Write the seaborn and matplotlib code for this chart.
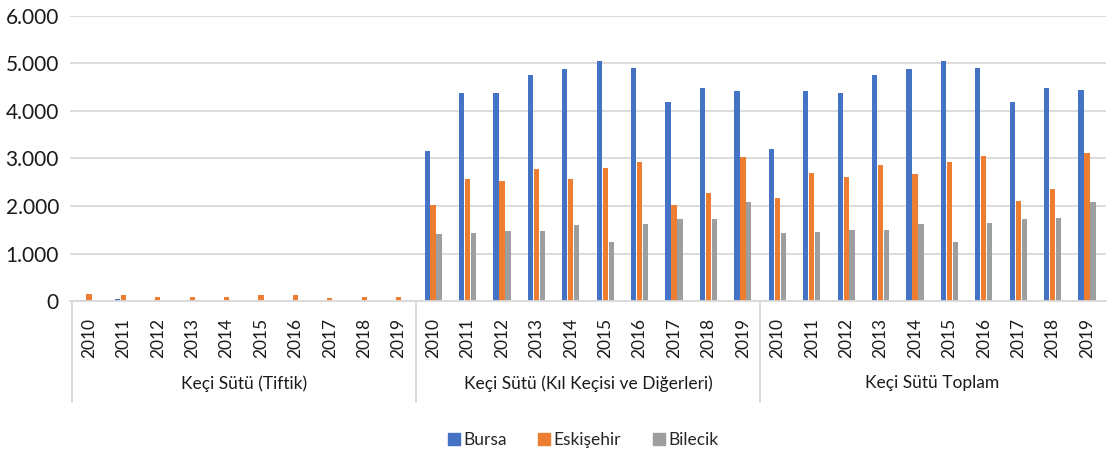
import matplotlib
matplotlib.use("Agg")
import matplotlib.pyplot as plt
import matplotlib.ticker as mticker
from matplotlib.lines import Line2D
import seaborn as sns
import pandas as pd

years = ["2010", "2011", "2012", "2013", "2014", "2015", "2016", "2017", "2018", "2019"]
groups = ["Keçi Sütü (Tiftik)", "Keçi Sütü (Kıl Keçisi ve Diğerleri)", "Keçi Sütü Toplam"]
series = ["Bursa", "Eskişehir", "Bilecik"]

bursa_tiftik = [25, 45, 10, 15, 10, 10, 10, 10, 15, 12]
eskisehir_tiftik = [150, 125, 95, 90, 95, 130, 130, 75, 80, 85]
bilecik_tiftik = [12, 12, 10, 10, 12, 10, 10, 8, 10, 10]

bursa_kil = [3165, 4375, 4370, 4750, 4875, 5040, 4895, 4180, 4475, 4425]
eskisehir_kil = [2025, 2570, 2520, 2775, 2570, 2795, 2920, 2025, 2275, 3040]
bilecik_kil = [1415, 1435, 1480, 1480, 1605, 1240, 1630, 1730, 1730, 2080]

bursa_toplam = [3190, 4420, 4380, 4750, 4885, 5050, 4905, 4190, 4490, 4437]
eskisehir_toplam = [2175, 2695, 2615, 2865, 2665, 2925, 3050, 2100, 2355, 3125]
bilecik_toplam = [1427, 1447, 1490, 1490, 1617, 1250, 1640, 1738, 1740, 2090]

colors = ["#4472C4", "#ED7D31", "#9C9E9F"]

data = {
    groups[0]: [bursa_tiftik, eskisehir_tiftik, bilecik_tiftik],
    groups[1]: [bursa_kil, eskisehir_kil, bilecik_kil],
    groups[2]: [bursa_toplam, eskisehir_toplam, bilecik_toplam],
}

rows = []
order = []
for gi, g in enumerate(groups):
    for yi, y in enumerate(years):
        key = f"{gi}-{y}"
        order.append(key)
        for si, s in enumerate(series):
            rows.append({"x": key, "İl": s, "value": data[g][si][yi]})
df = pd.DataFrame(rows)

sns.set_theme(style="white")
plt.rcParams["font.family"] = ["Lato", "DejaVu Sans"]

fig = plt.figure(figsize=(11.08, 4.57), dpi=100)
ax = fig.add_axes([70 / 1108, 1 - 301.3 / 457, (1106 - 70) / 1108, (301.3 - 15.7) / 457])

sns.barplot(data=df, x="x", y="value", hue="İl", order=order, hue_order=series,
            palette=colors, width=0.52, gap=0.12, ax=ax, legend=False,
            saturation=1, edgecolor="none")

ax.set_ylim(0, 6000)
ax.set_xlim(-0.55, len(order) - 0.45)
ax.yaxis.set_major_locator(mticker.MultipleLocator(1000))
ax.yaxis.set_major_formatter(mticker.FuncFormatter(lambda v, p: f"{int(v):,}".replace(",", ".")))
ax.grid(axis="y", color="#D9D9D9", linewidth=1.3)
ax.set_axisbelow(True)
for s in ["left", "right", "top"]:
    ax.spines[s].set_visible(False)
ax.spines["bottom"].set_color("#D9D9D9")
ax.spines["bottom"].set_linewidth(1.3)
ax.set_xlabel("")
ax.set_ylabel("")
ax.set_xticks(range(len(order)))
ax.set_xticklabels(years * 3, rotation=90, fontsize=12.5, color="#1a1a1a")
ax.tick_params(axis="x", length=0, pad=12)
ax.tick_params(axis="y", length=0, pad=8, labelsize=15, labelcolor="#1a1a1a")

# group separators and labels
trans = ax.get_xaxis_transform()
for b in [-0.5, 9.5, 19.5]:
    ax.add_line(Line2D([b, b], [0, -101 / 285.6], transform=trans, color="#D9D9D9",
                       linewidth=1.3, clip_on=False))
for gi, g in enumerate(groups):
    ax.text(gi * 10 + 4.5, -82 / 285.6, g, transform=trans, ha="center", va="center",
            fontsize=12.5, color="#1a1a1a")

handles = [plt.Rectangle((0, 0), 1, 1, color=c) for c in colors]
fig.legend(handles, series, loc="center", bbox_to_anchor=(583 / 1108, 1 - 440 / 457),
           ncol=3, frameon=False, fontsize=12.5, handlelength=0.7, handleheight=0.7,
           handletextpad=0.2, columnspacing=1.8)

fig.savefig("out.png", dpi=100)
